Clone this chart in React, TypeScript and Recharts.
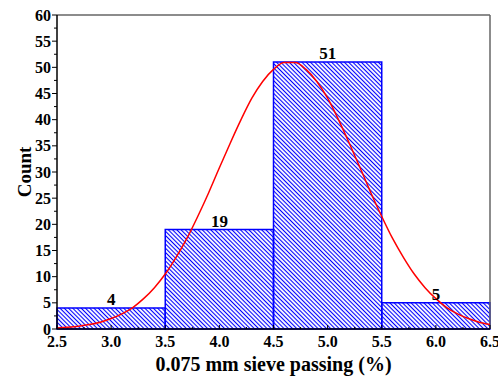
import {
  ComposedChart, Line, XAxis, YAxis, ReferenceArea, ReferenceLine,
} from "recharts";

const SERIF = '"Liberation Serif", "Times New Roman", serif';

// histogram bins (sieve passing %, count)
const binStart = [2.5, 3.5, 4.5, 5.5];
const binEnd = [3.5, 4.5, 5.5, 6.5];
const counts = [4, 19, 51, 5];

// fitted normal curve
const curveX = [
  2.5, 2.6, 2.7, 2.8, 2.9, 3.0, 3.1, 3.2, 3.3, 3.4, 3.5, 3.6, 3.7, 3.8, 3.9, 4.0, 4.1, 4.2, 4.3, 4.4, 4.5,
  4.6, 4.7, 4.8, 4.9, 5.0, 5.1, 5.2, 5.3, 5.4, 5.5, 5.6, 5.7, 5.8, 5.9, 6.0, 6.1, 6.2, 6.3, 6.4, 6.5,
];
const curveY = [
  0.2, 0.34, 0.54, 0.85, 1.3, 2.0, 2.9, 4.1, 5.8, 7.9, 10.5, 13.7, 17.3, 21.5, 26.0, 30.8, 35.5, 40.0, 44.1, 47.3, 49.6,
  50.9, 50.9, 49.6, 47.3, 44.1, 40.0, 35.5, 30.8, 26.0, 21.5, 17.3, 13.7, 10.5, 7.9, 5.8, 4.1, 2.9, 2.0, 1.3, 0.85,
];

const xTicks = [2.5, 2.75, 3, 3.25, 3.5, 3.75, 4, 4.25, 4.5, 4.75, 5, 5.25, 5.5, 5.75, 6, 6.25, 6.5];
const yTicks = [0, 2.5, 5, 7.5, 10, 12.5, 15, 17.5, 20, 22.5, 25, 27.5, 30, 32.5, 35, 37.5, 40, 42.5, 45, 47.5, 50, 52.5, 55, 57.5, 60];

const curveData = curveX.map((x, i) => ({ x, y: curveY[i] }));

function XTick(props: any) {
  const { x, y, payload } = props;
  const major = payload.value % 0.5 === 0;
  return (
    <g>
      <line x1={x} y1={y} x2={x} y2={y - (major ? 4 : 2)} stroke="#000" strokeWidth={1} />
      {major && (
        <text x={x} y={y + 18} textAnchor="middle" fontFamily={SERIF} fontWeight="bold" fontSize={16} fill="#000">
          {payload.value.toFixed(1)}
        </text>
      )}
    </g>
  );
}

function YTick(props: any) {
  const { x, y, payload } = props;
  const major = payload.value % 5 === 0;
  return (
    <g>
      <line x1={x} y1={y} x2={x - (major ? 5 : 3)} y2={y} stroke="#000" strokeWidth={1} />
      {major && (
        <text x={x - 6} y={y + 5.5} textAnchor="end" fontFamily={SERIF} fontWeight="bold" fontSize={16} fill="#000">
          {payload.value}
        </text>
      )}
    </g>
  );
}

function CountLabel(props: any) {
  const vb = props.viewBox;
  const cx = vb.x + 24;
  const cy = vb.y + vb.height / 2;
  return (
    <text
      x={cx}
      y={cy}
      transform={`rotate(-90, ${cx}, ${cy})`}
      textAnchor="middle"
      dominantBaseline="central"
      fontFamily={SERIF}
      fontWeight="bold"
      fontSize={19}
      fill="#000"
    >
      Count
    </text>
  );
}

export default function App() {
  return (
    <div style={{ position: "absolute", left: 0, top: 0, background: "#fff" }}>
      <svg width={0} height={0} style={{ position: "absolute" }}>
        <defs>
          <pattern id="hatch" patternUnits="userSpaceOnUse" width={3} height={3} patternTransform="rotate(-45)">
            <line x1={1.5} y1={0} x2={1.5} y2={3} stroke="#0000ff" strokeWidth={1.1} />
          </pattern>
        </defs>
      </svg>
      <ComposedChart
        width={498}
        height={379}
        data={curveData}
        margin={{ top: 15, right: 8, bottom: 0, left: 0 }}
      >
        <XAxis
          type="number"
          dataKey="x"
          domain={[2.5, 6.5]}
          ticks={xTicks}
          interval={0}
          tickSize={0}
          tickMargin={0}
          tickLine={false}
          tick={<XTick />}
          height={50}
          axisLine={{ stroke: "#000", strokeWidth: 1.5 }}
          label={{
            value: "0.075 mm sieve passing (%)",
            position: "insideBottom",
            offset: 8,
            style: { fontFamily: SERIF, fontWeight: "bold", fontSize: 20, fill: "#000" },
          }}
        />
        <YAxis
          type="number"
          domain={[0, 60]}
          ticks={yTicks}
          interval={0}
          tickSize={0}
          tickMargin={0}
          tickLine={false}
          tick={<YTick />}
          width={57}
          axisLine={{ stroke: "#000", strokeWidth: 1.5 }}
          label={<CountLabel />}
        />
        {counts.map((c, i) => (
          <ReferenceArea
            key={i}
            x1={binStart[i]}
            x2={binEnd[i]}
            y1={0}
            y2={c}
            fill="url(#hatch)"
            fillOpacity={1}
            stroke="#0000ff"
            strokeWidth={1.5}
            label={{
              value: c,
              position: "top",
              offset: 3,
              style: { fontFamily: SERIF, fontWeight: "bold", fontSize: 17, fill: "#000" },
            }}
          />
        ))}
        <ReferenceLine y={60} stroke="#666" strokeWidth={1.5} />
        <ReferenceLine x={6.5} stroke="#666" strokeWidth={1.5} />
        <Line
          type="monotone"
          dataKey="y"
          stroke="#ff0000"
          strokeWidth={1.5}
          dot={false}
          isAnimationActive={false}
        />
      </ComposedChart>
    </div>
  );
}
